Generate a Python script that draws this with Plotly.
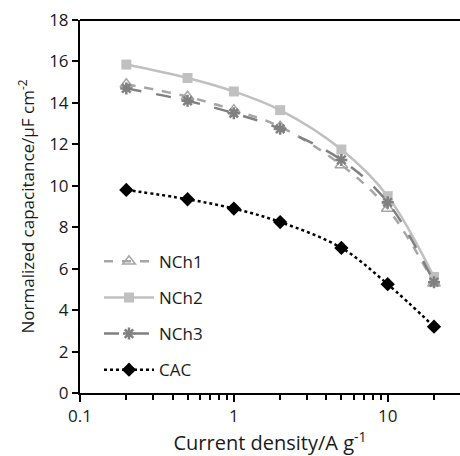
import plotly.graph_objects as go

x = [0.2, 0.5, 1, 2, 5, 10, 20]
nch1 = [14.9, 14.3, 13.65, 12.85, 11.0, 8.9, 5.3]
nch2 = [15.85, 15.2, 14.55, 13.65, 11.75, 9.5, 5.6]
nch3 = [14.7, 14.1, 13.5, 12.75, 11.25, 9.2, 5.35]
cac = [9.8, 9.35, 8.9, 8.25, 7.0, 5.25, 3.2]

font = "Open Sans"
fig = go.Figure()
fig.add_trace(go.Scatter(x=x, y=nch1, name="NCh1", mode="lines+markers", legendgroup="a",
    line=dict(color="#a6a6a6", width=2.5, dash="dash", shape="spline"),
    marker=dict(symbol="triangle-up-open", size=11, color="#a6a6a6", line=dict(width=1.5))))
fig.add_trace(go.Scatter(x=x, y=nch2, name="NCh2", mode="lines+markers", legendgroup="b",
    line=dict(color="#c0c0c0", width=2.5, shape="spline"),
    marker=dict(symbol="square", size=10, color="#c0c0c0")))
fig.add_trace(go.Scatter(x=x, y=nch3, name="NCh3", mode="lines+markers", legendgroup="c",
    line=dict(color="#808080", width=2.5, dash="longdash", shape="spline"),
    marker=dict(symbol="asterisk-open", size=10, color="#808080", line=dict(width=2.5, color="#808080"))))
fig.add_trace(go.Scatter(x=x, y=cac, name="CAC", mode="lines+markers", legendgroup="d",
    line=dict(color="black", width=2.5, dash="dot", shape="spline"),
    marker=dict(symbol="diamond", size=11, color="black")))

fig.update_layout(
    width=460, height=456,
    margin=dict(l=80, r=0, t=20, b=63),
    paper_bgcolor="white", plot_bgcolor="white",
    font=dict(family=font, size=17, color="#1a1a1a"),
    showlegend=True,
    legend=dict(x=0.05, y=0.40, xanchor="left", yanchor="top",
                bgcolor="rgba(0,0,0,0)", font=dict(size=17),
                itemwidth=50, tracegroupgap=11),
    xaxis=dict(type="log", range=[-1, 1.47], showgrid=False, zeroline=False,
               showline=True, linecolor="black", linewidth=2,
               ticks="outside", ticklen=7, tickwidth=2, tickcolor="black",
               tickvals=[0.1, 1, 10], ticktext=["0.1", "1", "10"],
               minor=dict(ticks="outside", ticklen=5, tickwidth=1.5, tickcolor="black",
                          tickvals=[0.2,0.3,0.4,0.5,0.6,0.7,0.8,0.9,2,3,4,5,6,7,8,9,20,30]),
               title=dict(text="Current density/A g<sup>-1</sup>", font=dict(size=20), standoff=14)),
    yaxis=dict(range=[0, 18], dtick=2, showgrid=False, zeroline=False,
               showline=True, linecolor="black", linewidth=2,
               ticks="outside", ticklen=6, tickwidth=2, tickcolor="black",
               title=dict(text="Normalized capacitance/μF cm<sup>-2</sup>", font=dict(size=17), standoff=10)),
    shapes=[dict(type="line", xref="paper", yref="paper", x0=0, x1=1, y0=1, y1=1,
                 line=dict(color="black", width=2))],
)
fig.write_html("out.html")
